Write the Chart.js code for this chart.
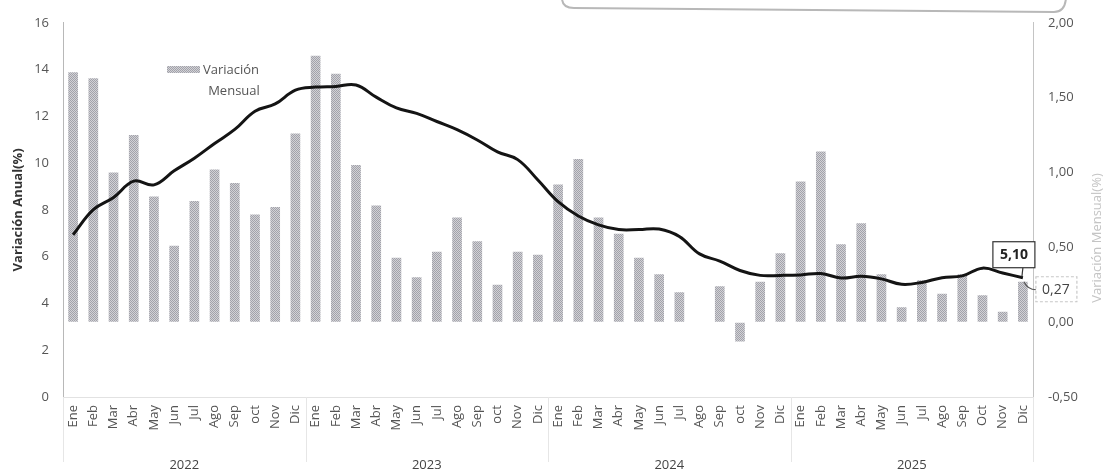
<!DOCTYPE html>
<html>
<head>
<meta charset="utf-8">
<script src="https://cdn.jsdelivr.net/npm/chart.js@4.4.1/dist/chart.umd.min.js"></script>
<style>
  body { margin: 0; background: #fff; }
  #wrap { width: 1110px; height: 474px; }
</style>
</head>
<body>
<div id="wrap"><canvas id="ipc-chart"></canvas></div>
<script>
const meses = ['Ene', 'Feb', 'Mar', 'Abr', 'May', 'Jun', 'Jul', 'Ago', 'Sep', 'oct', 'Nov', 'Dic'];
const meses2025 = ['Ene', 'Feb', 'Mar', 'Abr', 'May', 'Jun', 'Jul', 'Ago', 'Sep', 'Oct', 'Nov', 'Dic'];
const years = ['2022', '2023', '2024', '2025'];

// variacion anual (%)
const anual2022 = [6.94, 8.01, 8.53, 9.23, 9.07, 9.67, 10.21, 10.84, 11.44, 12.22, 12.53, 13.12];
const anual2023 = [13.25, 13.28, 13.34, 12.82, 12.36, 12.13, 11.78, 11.43, 10.99, 10.48, 10.15, 9.28];
const anual2024 = [8.35, 7.74, 7.36, 7.16, 7.16, 7.18, 6.86, 6.12, 5.81, 5.41, 5.20, 5.20];
const anual2025 = [5.22, 5.28, 5.09, 5.16, 5.05, 4.82, 4.90, 5.10, 5.18, 5.51, 5.30, 5.10];

// variacion mensual (%)
const mensual2022 = [1.67, 1.63, 1.00, 1.25, 0.84, 0.51, 0.81, 1.02, 0.93, 0.72, 0.77, 1.26];
const mensual2023 = [1.78, 1.66, 1.05, 0.78, 0.43, 0.30, 0.47, 0.70, 0.54, 0.25, 0.47, 0.45];
const mensual2024 = [0.92, 1.09, 0.70, 0.59, 0.43, 0.32, 0.20, 0.00, 0.24, -0.13, 0.27, 0.46];
const mensual2025 = [0.94, 1.14, 0.52, 0.66, 0.32, 0.10, 0.28, 0.19, 0.32, 0.18, 0.07, 0.27];

const labels = [...meses, ...meses, ...meses, ...meses2025];
const anual = [...anual2022, ...anual2023, ...anual2024, ...anual2025];
const mensual = [...mensual2022, ...mensual2023, ...mensual2024, ...mensual2025];

const FONT = '"Open Sans", "Noto Sans", sans-serif';

function hatch() {
  const c = document.createElement('canvas');
  c.width = 2; c.height = 2;
  const g = c.getContext('2d');
  g.fillStyle = '#d2d2d6';
  g.fillRect(0, 0, 2, 2);
  g.fillStyle = '#a2a2aa';
  g.fillRect(0, 0, 1, 1); g.fillRect(1, 1, 1, 1);
  return g.createPattern(c, 'repeat');
}
const barFill = hatch();

const fmt = v => v.toFixed(2).replace('.', ',');

// legend, separators, top frame and the two value labels
const extras = {
  id: 'extras',
  afterDraw(chart) {
    const {ctx, scales} = chart;
    const x = scales.x, y = scales.y, y1 = scales.y1;
    ctx.save();

    // cut off frame at the top
    ctx.strokeStyle = '#b8b8b8';
    ctx.lineWidth = 2;
    ctx.beginPath();
    ctx.moveTo(562, -2);
    ctx.quadraticCurveTo(562, 8, 574, 8);
    ctx.lineTo(1054, 12);
    ctx.quadraticCurveTo(1065, 12, 1066, -2);
    ctx.stroke();

    // year separators
    ctx.strokeStyle = '#e6e6e6';
    ctx.lineWidth = 1;
    const step = x.getPixelForValue(1) - x.getPixelForValue(0);
    for (let i = 0; i <= 48; i += 12) {
      const px = x.getPixelForValue(i) - step / 2;
      ctx.beginPath();
      ctx.moveTo(Math.round(px) + 0.5, y.bottom);
      ctx.lineTo(Math.round(px) + 0.5, 462);
      ctx.stroke();
    }

    // legend
    ctx.fillStyle = barFill;
    ctx.fillRect(167, 66, 33, 7);
    ctx.fillStyle = '#555';
    ctx.font = '13px ' + FONT;
    ctx.textBaseline = 'middle';
    ctx.textAlign = 'left';
    ctx.fillText('Variación', 203, 70);
    ctx.textAlign = 'center';
    ctx.fillText('Mensual', 234, 91);

    // right axis title
    ctx.save();
    ctx.translate(1097, 238);
    ctx.rotate(-Math.PI / 2);
    ctx.fillStyle = '#c4c4c4';
    ctx.fillText('Variación Mensual(%)', 0, 0);
    ctx.restore();

    // 5,10 label
    const n = anual.length - 1;
    const px = x.getPixelForValue(n);
    const py = y.getPixelForValue(anual[n]);
    ctx.strokeStyle = '#333';
    ctx.lineWidth = 1.2;
    ctx.beginPath();
    ctx.moveTo(px, py - 10);
    ctx.lineTo(px - 1, py - 1);
    ctx.stroke();
    ctx.fillStyle = '#fff';
    ctx.fillRect(px - 30, py - 36, 42, 26);
    ctx.strokeRect(px - 30, py - 36, 42, 26);
    ctx.fillStyle = '#222';
    ctx.font = 'bold 14px ' + FONT;
    ctx.fillText(fmt(anual[n]), px - 9, py - 22.5);

    // 0,27 label
    const by = y1.getPixelForValue(mensual[n]);
    ctx.strokeStyle = '#555';
    ctx.beginPath();
    ctx.moveTo(px + 1, by);
    ctx.quadraticCurveTo(px + 5, by + 8, px + 13, by + 8);
    ctx.stroke();
    ctx.strokeStyle = '#c8c8c8';
    ctx.setLineDash([3, 2]);
    ctx.strokeRect(px + 13, by - 5, 41, 25);
    ctx.setLineDash([]);
    ctx.fillStyle = '#444';
    ctx.font = '14px ' + FONT;
    ctx.fillText(fmt(mensual[n]), px + 33, by + 8);

    ctx.restore();
  }
};

const data = {
  labels: labels,
  datasets: [
    {
      type: 'line',
      data: anual,
      yAxisID: 'y',
      borderColor: '#141414',
      borderWidth: 3,
      tension: 0.4,
      pointRadius: 0,
      order: 0,
    },
    {
      type: 'bar',
      data: mensual,
      yAxisID: 'y1',
      backgroundColor: barFill,
      barPercentage: 0.48,
      categoryPercentage: 1,
      order: 1,
    },
  ],
};

const config = {
  data: data,
  options: {
    responsive: true,
    maintainAspectRatio: false,
    animation: false,
    layout: {
      padding: { top: 16, left: 0, right: 0, bottom: 0 },
    },
    scales: {
      x: {
        type: 'category',
        offset: true,
        grid: { drawOnChartArea: false, drawTicks: false },
        border: { color: '#e2e2e2' },
        ticks: {
          autoSkip: false,
          maxRotation: 90,
          minRotation: 90,
          padding: 8,
          color: '#555',
          font: { family: FONT, size: 13 },
        },
        afterFit: s => { s.height = 47; },
      },
      x2: {
        type: 'category',
        position: 'bottom',
        labels: years,
        offset: true,
        grid: { display: false },
        border: { display: false },
        ticks: {
          padding: 5,
          color: '#444',
          font: { family: FONT, size: 13 },
        },
        afterFit: s => { s.height = 30; },
      },
      y: {
        position: 'left',
        min: 0,
        max: 16,
        grid: { drawOnChartArea: false, drawTicks: false },
        border: { color: '#b8b8b8' },
        ticks: {
          stepSize: 2,
          padding: 14,
          color: '#555',
          font: { family: FONT, size: 13 },
        },
        title: {
          display: true,
          text: 'Variación Anual(%)',
          color: '#333',
          padding: { top: 10, bottom: 0 },
          font: { family: FONT, size: 13, weight: 'bold' },
        },
        afterFit: s => { s.width = 63; },
      },
      y1: {
        position: 'right',
        min: -0.5,
        max: 2,
        grid: { drawOnChartArea: false, drawTicks: false },
        border: { color: '#c4c4c4' },
        ticks: {
          stepSize: 0.5,
          padding: 15,
          color: '#555',
          font: { family: FONT, size: 13 },
          callback: v => fmt(v),
        },
        afterFit: s => { s.width = 77; },
      },
    },
    plugins: {
      legend: { display: false },
      tooltip: { enabled: false },
    },
  },
  plugins: [extras],
};

new Chart(document.getElementById('ipc-chart'), config);
</script>
</body>
</html>
